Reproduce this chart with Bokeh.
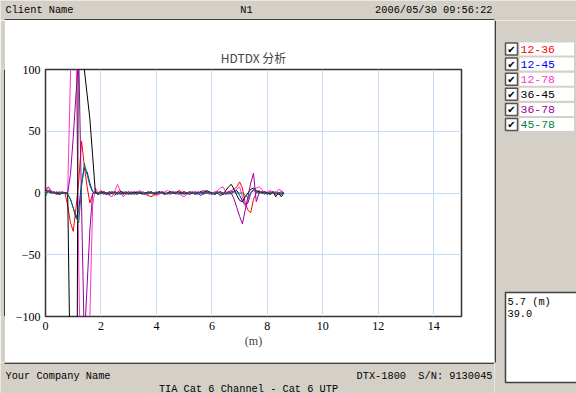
import numpy as np
from bokeh.plotting import figure
from bokeh.models import Range1d, FixedTicker
from bokeh.layouts import row, column
from bokeh.core.properties import value
from bokeh.embed import file_html
from bokeh.resources import INLINE

# ---------------- data ----------------
distance_m = np.round(np.arange(0, 8.65, 0.1), 1)

pair_names = ["12-36", "12-45", "12-78", "36-45", "36-78", "45-78"]
pair_colors = ["#ff0000", "#0000ff", "#ff33cc", "#000000", "#990099", "#008040"]

hdtdx_12_36 = [2, 5, 1, 0, -1, 0, 1, 0, -10, -24,
               -31, -12, 10, 42, 22, 5, -8, -1, 1, 0,
               2, 0, -1, 1, 0, -2, 1, 2, 0, -1,
               0, 1, 0, -1, 1, 0, -1, -2, -3, -2,
               -1, 0, 1, 0, -1, 0, 1, 0, 2, 1,
               0, -1, 0, 1, 0, -1, 1, 2, 1, 0,
               -1, 0, 1, 0, -1, 0, 1, 2, 3, 5,
               9, 4, -8, -14, -16, -5, 0, 2, 0, 1,
               0, -1, 0, 1, 0, -1, 0]
hdtdx_12_45 = [0, 2, 1, 0, 0, -1, 0, 0, -1, -5,
               -12, -20, -14, 8, 20, 17, 8, 1, 0, -1,
               0, 1, 0, -1, 0, 1, 0, -1, 0, 1,
               0, -1, 0, 1, 0, 0, -1, 0, 1, 0,
               0, 1, 0, -1, 0, 1, 0, 0, -1, 0,
               1, 0, -1, 0, 1, 0, -2, 0, 1, 0,
               0, -1, 0, 1, 0, -1, 0, 1, 1, 2,
               -2, -6, -10, -8, 0, 3, 1, 0, 1, 0,
               -1, 0, 1, 0, -1, 0, 0]
hdtdx_12_78 = [1, 5, 2, 0, -1, 0, 1, 0, 0, 95,
               180, 120, -60, -200, -250, -200, -100, -10, 4, 0,
               -1, 1, 0, -2, -3, 2, 7, 1, -3, -1,
               1, 0, -1, 1, 2, 0, -1, 0, 1, 0,
               -2, -1, 0, 1, 2, 1, 0, -1, 0, -2,
               -3, -1, 0, 1, 0, -1, 1, 2, 0, -1,
               0, 1, 2, 4, 5, 1, 0, -1, 1, 3,
               5, -3, -10, -6, 0, 3, 4, 5, 3, 0,
               1, 2, 0, -1, 3, 2, 0]
hdtdx_36_45 = [3, 1, 0, 1, 0, -1, 0, 0, 0, -160,
               -280, -400, 250, 200, 100, 80, 60, 30, 0, -1,
               1, 0, -1, 0, 1, 0, -1, 1, 0, 0,
               -1, 0, 1, 0, 0, -1, 0, 1, 0, -1,
               0, 1, 0, -1, 0, 1, 0, 0, 1, 0,
               -1, 0, 1, 0, -1, 0, 1, 0, 2, 1,
               0, -1, 0, -2, -1, 2, 5, 7, 3, -2,
               -6, -7, -3, 0, 3, 4, 2, 1, 0, 1,
               0, -1, 1, -3, 0, -3, 0]
hdtdx_36_78 = [0, 2, 1, 0, 0, 1, 0, 0, 0, 15,
               45, 80, 110, -10, -120, -75, -30, 0, 1, 0,
               0, 1, 0, -1, 0, 1, 0, 0, -1, 0,
               1, 0, 0, -1, 0, 1, 0, 0, 1, 0,
               -1, 0, 1, 0, 0, -1, 0, 1, 0, 0,
               1, 0, -1, 0, 0, 1, 0, -1, 0, 1,
               0, 0, 1, 0, -1, 0, 1, 0, -5, -12,
               -19, -25, -14, -3, 8, 16, -7, 0, 1, 0,
               0, 1, 0, -1, 0, 1, 0]
hdtdx_45_78 = [-3, 2, 0, 0, 1, 0, 0, 0, -1, -5,
               -12, -20, -24, 5, 24, 15, 6, 1, 0, 0,
               0, -1, 0, 1, 0, 0, -1, 0, 1, 0,
               0, 0, -1, 0, 1, 0, 0, -1, 0, 0,
               1, 0, 0, -1, 0, 0, 1, 0, 0, -1,
               0, 0, 1, 0, -1, 0, 0, 1, 0, 0,
               -1, 0, 0, 1, 0, 0, -1, 0, 1, 0,
               0, 0, -2, -4, 0, 2, 1, 0, 0, -1,
               0, 0, 1, 0, 0, -1, 0]
series = [hdtdx_12_36, hdtdx_12_45, hdtdx_12_78, hdtdx_36_45, hdtdx_36_78, hdtdx_45_78]

x_ticks = [0, 2, 4, 6, 8, 10, 12, 14]
y_ticks = [-100, -50, 0, 50, 100]

header_left, header_mid, header_right = "Client Name", "N1", "2006/05/30 09:56:22"
footer_left, footer_right = "Your Company Name", "DTX-1800 \u00a0S/N: 9130045"
footer_center = "TIA Cat 6 Channel - Cat 6 UTP"
chart_title = "HDTDX 分析"
readout = ["5.7 (m)", "39.0"]

# ---------------- styling ----------------
GRAY = "#d4d0c8"
DARK = "#404040"
MONO = "Liberation Mono"
FS = "10.3px"


def deco(w, h, bg=GRAY):
    f = figure(width=w, height=h, x_range=Range1d(0, w), y_range=Range1d(h, 0),
               min_border=0, x_axis_location=None, y_axis_location=None,
               output_backend="svg", toolbar_location=None)
    f.title.visible = False
    f.background_fill_color = bg
    f.border_fill_color = bg
    f.outline_line_color = None
    f.xgrid.visible = False
    f.ygrid.visible = False
    return f


def put_text(f, x, y, s, align="left", size=FS, color="#000000", font=MONO, style="normal"):
    f.text(x=[x], y=[y], text=[s], text_align=align, text_baseline="middle",
           text_font=value(font), text_font_size=size, text_color=color,
           text_font_style=style)


# ---- header (y 0..20) ----
header = deco(576, 20)
header.quad(left=[4], right=[494], top=[18.5], bottom=[20], fill_color=DARK, line_color=None)
put_text(header, 5, 9, header_left)
put_text(header, 246, 9, header_mid, align="center")
put_text(header, 492, 9, header_right, align="right")

# ---- left strip (x 0..5) ----
left_strip = deco(5, 342)
left_strip.quad(left=[3.5], right=[5], top=[0], bottom=[342], fill_color=DARK, line_color=None)

# ---- main chart panel (x 5..494, y 20..362) ----
p = figure(width=489, height=342, x_range=Range1d(0, 15), y_range=Range1d(-100, 100),
           min_border_left=40, min_border_right=33, min_border_top=49, min_border_bottom=46,
           title=chart_title, output_backend="svg", toolbar_location=None)
p.title.align = "center"
p.title.text_font = "Noto Sans CJK SC"
p.title.text_font_size = "12px"
p.title.text_font_style = "normal"
p.title.standoff = 7
p.background_fill_color = "white"
p.border_fill_color = "white"
p.outline_line_color = "#333333"
p.outline_line_width = 1.5

p.xaxis.ticker = FixedTicker(ticks=x_ticks)
p.yaxis.ticker = FixedTicker(ticks=y_ticks)
p.yaxis.major_label_overrides = {-100: "\u2212100", -50: "\u221250"}
for ax in (p.xaxis, p.yaxis):
    ax.axis_line_color = None
    ax.major_tick_line_color = None
    ax.minor_tick_line_color = None
    ax.major_tick_out = 0
    ax.major_tick_in = 0
    ax.major_label_text_font = "Liberation Serif"
    ax.major_label_text_font_size = "12px"
    ax.major_label_text_color = "#000000"
    ax.major_label_standoff = 5
p.xaxis.axis_label = "(m)"
p.xaxis.axis_label_text_font = "Liberation Serif"
p.xaxis.axis_label_text_font_style = "normal"
p.xaxis.axis_label_text_font_size = "12px"
p.xaxis.axis_label_standoff = 1
p.grid.grid_line_color = "#c6dcf4"
p.grid.grid_line_width = 1

for vals, col in zip(series, pair_colors):
    p.line(distance_m, vals, line_color=col, line_width=1)

# ---- footer (x 0..494, y 362..393) ----
footer = deco(494, 31)
footer.quad(left=[4], right=[494], top=[0], bottom=[1.5], fill_color=DARK, line_color=None)
put_text(footer, 5, 13.5, footer_left)
put_text(footer, 492, 13.5, footer_right, align="right")
put_text(footer, 248, 26, footer_center, align="center")

# ---- right column (x 494..576, y 20..393) ----
right = deco(82, 373)
right.quad(left=[0], right=[1.5], top=[0], bottom=[342], fill_color=DARK, line_color=None)
row_y = [28.5 + 15.1 * i for i in range(len(pair_names))]
right.quad(left=[25] * 6, right=[79.5] * 6, top=[y - 6.5 for y in row_y],
           bottom=[y + 6.5 for y in row_y], fill_color="white", line_color=None)
right.quad(left=[11] * 6, right=[23] * 6, top=[y - 6 for y in row_y],
           bottom=[y + 6 for y in row_y], fill_color="white", line_color="#555555",
           line_width=1.5)
right.text(x=[17] * 6, y=row_y, text=["\u2714"] * 6, text_align="center",
           text_baseline="middle", text_font=value("DejaVu Sans"), text_font_size="10px",
           text_color="#000000")
right.text(x=[26] * 6, y=row_y, text=pair_names, text_align="left", text_baseline="middle",
           text_font=value(MONO), text_font_size="11.5px", text_color=pair_colors)
# readout box
right.quad(left=[11], right=[90], top=[272], bottom=[362], fill_color="white",
           line_color=DARK, line_width=1.5)
put_text(right, 13, 281, readout[0])
put_text(right, 13, 293, readout[1])

layout = column(header,
                row(column(row(left_strip, p, spacing=0), footer, spacing=0), right, spacing=0),
                spacing=0)

open("out.html", "w").write(file_html(layout, INLINE))
